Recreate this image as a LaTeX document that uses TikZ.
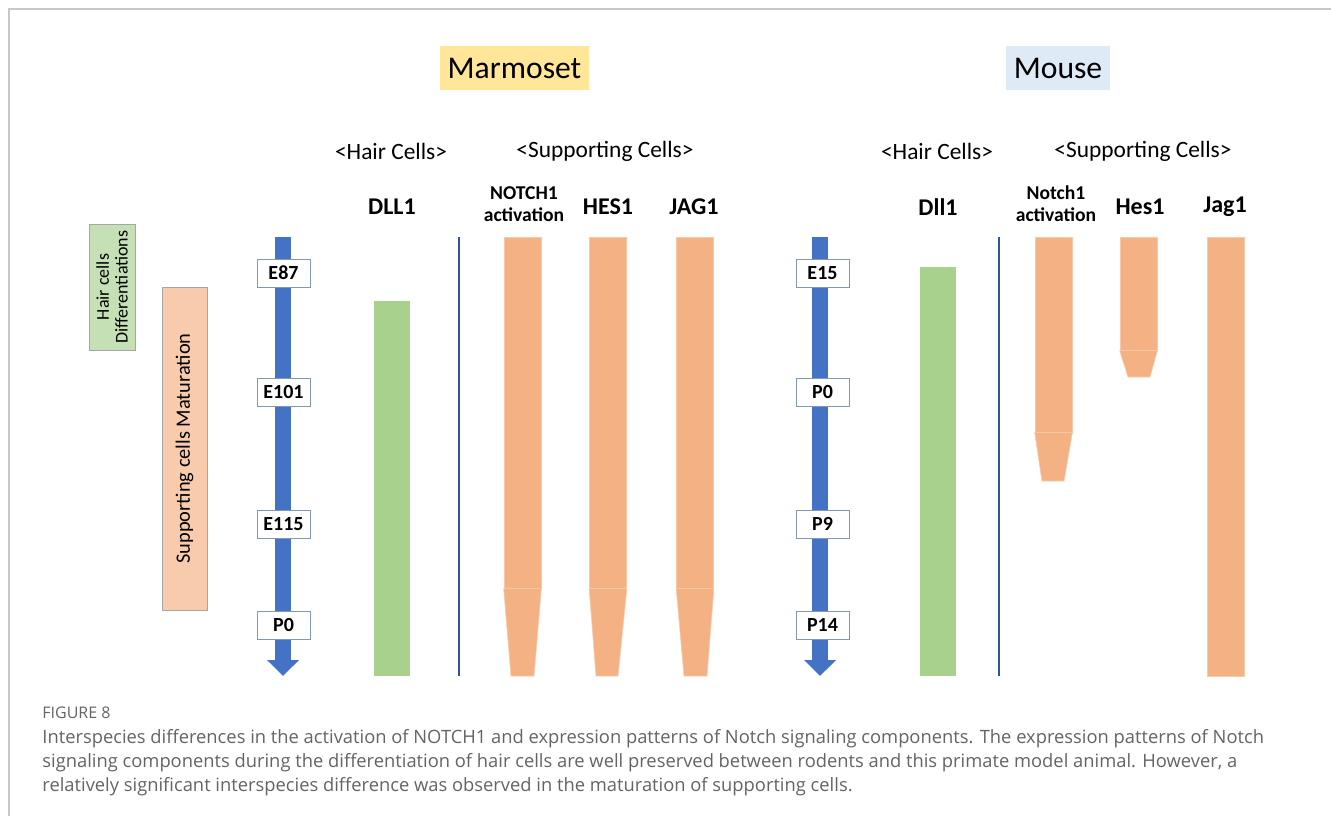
\documentclass[tikz,border=0pt]{standalone}
\usepackage{fontspec}
\setmainfont{Carlito}
\newfontfamily\capfont{Open Sans}
\usetikzlibrary{arrows.meta}
\definecolor{frameg}{HTML}{C8C8C8}
\definecolor{yell}{HTML}{FFE699}
\definecolor{lblue}{HTML}{DEEBF7}
\definecolor{arrowblue}{HTML}{4472C4}
\definecolor{barorange}{HTML}{F4B183}
\definecolor{bargreen}{HTML}{A9D18E}
\definecolor{boxgreen}{HTML}{C5E0B4}
\definecolor{boxorange}{HTML}{F8CBAD}
\definecolor{divblue}{HTML}{2F5597}
\definecolor{capgray}{HTML}{646464}
\definecolor{stageborder}{HTML}{8497B0}
\definecolor{seam}{HTML}{F7C9A6}
\tikzset{
  species/.style={inner sep=0pt, minimum height=22pt, font=\fontsize{15.8}{19}\selectfont},
  hdr/.style={inner sep=0pt, font=\fontsize{11.7}{14}\selectfont},
  gene/.style={inner sep=0pt, font=\bfseries\fontsize{12}{14}\selectfont},
  genetwo/.style={inner sep=0pt, align=center, font=\bfseries\fontsize{9.8}{11}\selectfont},
  stage/.style={draw=stageborder, fill=white, line width=0.5pt, minimum width=26.5pt,
    minimum height=14pt, inner sep=0pt, font=\bfseries\fontsize{10}{12}\selectfont},
  obar/.style={fill=barorange, draw=seam, line width=0.3pt, inner sep=0pt, anchor=north, minimum width=18.5pt},
  gbar/.style={fill=bargreen, inner sep=0pt, anchor=north, minimum width=18pt},
  taper/.style={fill=barorange, draw=seam, line width=0.3pt},
  timeline/.style={draw=arrowblue, line width=8pt, -{Triangle[width=15.5pt, length=8pt]}},
  divider/.style={draw=divblue, line width=0.6pt},
  caption/.style={anchor=base west, inner sep=0pt, text=capgray, font=\capfont\fontsize{9.17}{12}\selectfont},
}
\begin{document}
\begin{tikzpicture}[x=0.5pt,y=-0.5pt]
\useasboundingbox (0,0) rectangle (1331,816);
\fill[white] (0,0) rectangle (1331,816);
% frame
\coordinate (ftr) at (1331,8.5);
\coordinate (ftl) at (9,8.5);
\coordinate (fbl) at (9,816);
\draw[frameg, line width=1pt] (ftr) -- (ftl) -- (fbl);

% species titles
\node[species, fill=yell, minimum width=74.5pt] (marm) at (514.5,68) {Marmoset};
\node[species, fill=lblue, minimum width=52pt] (mouse) at (1058,68) {Mouse};

% headers
\node[hdr] (mhc) at (391,151) {<Hair Cells>};
\node[hdr] (msc) at (605,151) {<Supporting Cells>};
\node[hdr] (uhc) at (937,151) {<Hair Cells>};
\node[hdr] (usc) at (1143,151) {<Supporting Cells>};

% gene labels
\node[gene] (gdll) at (392,207) {DLL1};
\node[genetwo] (gnotch) at (524,204) {NOTCH1\\activation};
\node[gene] (ghes) at (608,207) {HES1};
\node[gene] (gjag) at (694,207) {JAG1};
\node[gene] (udll) at (938,207) {Dll1};
\node[genetwo] (unotch) at (1056,204) {Notch1\\activation};
\node[gene] (uhes) at (1140,207) {Hes1};
\node[gene] (ujag) at (1225,207) {Jag1};

% left boxes
\node[draw=gray!70, fill=boxgreen, line width=0.5pt, rotate=90, minimum width=63pt, minimum height=23pt,
  inner sep=0pt, align=center, font=\fontsize{9}{9.4}\selectfont] (hcd) at (112,287) {Hair cells\\Differentiations};
\node[draw=gray!70, fill=boxorange, line width=0.5pt, rotate=90, minimum width=161.5pt, minimum height=22.5pt,
  inner sep=0pt, font=\fontsize{10.2}{12}\selectfont] (scm) at (184.5,448.5) {Supporting cells Maturation};

% marmoset timeline
\coordinate (mt) at (283,237);
\coordinate (mb) at (283,676);
\draw[timeline] (mt) -- (mb);
\node[stage] (m1) at (283.5,273) {E87};
\node[stage] (m2) at (283.5,392) {E101};
\node[stage] (m3) at (283.5,524) {E115};
\node[stage] (m4) at (283.5,625) {P0};

% mouse timeline
\coordinate (ut) at (820,237);
\coordinate (ub) at (820,676);
\draw[timeline] (ut) -- (ub);
\node[stage] (u1) at (822.5,273) {E15};
\node[stage] (u2) at (822.5,392) {P0};
\node[stage] (u3) at (822.5,524) {P9};
\node[stage] (u4) at (822.5,625) {P14};

% dividers
\coordinate (md1) at (459,237);
\coordinate (md2) at (459,676);
\draw[divider] (md1) -- (md2);
\coordinate (ud1) at (999,237);
\coordinate (ud2) at (999,676);
\draw[divider] (ud1) -- (ud2);

% marmoset bars
\node[gbar, minimum height=187.5pt] (bdll) at (392,301) {};
\node[obar, minimum height=175.5pt] (bnotch) at (522.5,237) {};
\fill[taper] (bnotch.south west) -- (bnotch.south east) -- (534,676) -- (511,676) -- cycle;
\node[obar, minimum height=175.5pt] (bhes) at (608,237) {};
\fill[taper] (bhes.south west) -- (bhes.south east) -- (618,676) -- (596,676) -- cycle;
\node[obar, minimum height=175.5pt] (bjag) at (695,237) {};
\fill[taper] (bjag.south west) -- (bjag.south east) -- (707,676) -- (684,676) -- cycle;

% mouse bars
\node[gbar, minimum height=204.5pt] (cdll) at (938,267) {};
\node[obar, minimum height=97.5pt] (cnotch) at (1053.5,237) {};
\fill[taper] (cnotch.south west) -- (cnotch.south east) -- (1064,481) -- (1042,481) -- cycle;
\node[obar, minimum height=56.5pt] (ches) at (1138.5,237) {};
\fill[taper] (ches.south west) -- (ches.south east) -- (1150,377) -- (1128,377) -- cycle;
\node[obar, minimum height=219.5pt] (cjag) at (1225.5,237) {};

% caption
\node[caption, font=\capfont\fontsize{8}{10}\selectfont] (fig) at (42,718) {FIGURE 8};
\node[caption] (cap1) at (42,743) {Interspecies differences in the activation of NOTCH1 and expression patterns of Notch signaling components. The expression patterns of Notch};
\node[caption] (cap2) at (42,767) {signaling components during the differentiation of hair cells are well preserved between rodents and this primate model animal. However, a};
\node[caption] (cap3) at (42,791) {relatively significant interspecies difference was observed in the maturation of supporting cells.};
\end{tikzpicture}
\end{document}
